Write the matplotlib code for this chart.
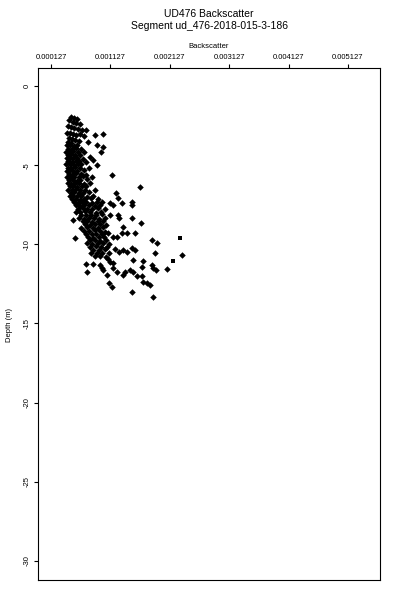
import matplotlib
matplotlib.use("Agg")
import matplotlib.pyplot as plt
import numpy as np

plt.rcParams['font.family'] = ['Liberation Sans', 'DejaVu Sans']

# backscatter / depth samples, grouped by depth zone
top_pts = [
    (0.00046, -1.95), (0.00051, -2.00), (0.00056, -2.08), (0.00043, -2.18), (0.00049, -2.25),
    (0.00054, -2.33), (0.00061, -2.42), (0.00041, -2.52), (0.00047, -2.60), (0.00052, -2.68),
    (0.00058, -2.74), (0.00065, -2.80), (0.00072, -2.76), (0.00040, -2.94), (0.00045, -3.00),
    (0.00050, -3.06), (0.00055, -3.12), (0.00062, -3.02), (0.00068, -3.18), (0.00043, -3.30),
    (0.00048, -3.36), (0.00053, -3.42), (0.00059, -3.46), (0.00041, -3.56), (0.00047, -3.62),
    (0.00087, -3.10), (0.00100, -3.03), (0.00090, -3.73), (0.00100, -3.85), (0.00097, -4.17),
]

mid_pts = [
    (0.00039, -3.75), (0.00044, -3.72), (0.00051, -3.80), (0.00057, -3.75), (0.00075, -3.54),
    (0.00042, -3.95), (0.00048, -3.98), (0.00054, -3.92), (0.00063, -3.95),
    (0.00038, -4.15), (0.00045, -4.18), (0.00050, -4.12), (0.00058, -4.15), (0.00068, -4.20),
    (0.00041, -4.35), (0.00047, -4.32), (0.00053, -4.38), (0.00061, -4.35), (0.00079, -4.50),
    (0.00039, -4.55), (0.00044, -4.58), (0.00050, -4.52), (0.00056, -4.55), (0.00066, -4.60),
    (0.00042, -4.75), (0.00048, -4.78), (0.00054, -4.72), (0.00060, -4.75), (0.00071, -4.80),
    (0.00038, -4.95), (0.00045, -4.92), (0.00051, -4.98), (0.00058, -4.95), (0.00064, -4.90),
    (0.00041, -5.15), (0.00047, -5.18), (0.00053, -5.12), (0.00062, -5.15), (0.00076, -5.20),
    (0.00039, -5.35), (0.00044, -5.32), (0.00050, -5.38), (0.00057, -5.35), (0.00068, -5.30),
    (0.00043, -5.55), (0.00049, -5.58), (0.00055, -5.52), (0.00063, -5.55), (0.00072, -5.60),
    (0.00040, -5.75), (0.00046, -5.72), (0.00052, -5.78), (0.00059, -5.75), (0.00066, -5.70),
    (0.00081, -5.75), (0.00043, -5.95), (0.00049, -5.92), (0.00056, -5.98), (0.00062, -5.95),
    (0.00074, -5.90), (0.00041, -6.15), (0.00047, -6.18), (0.00053, -6.12), (0.00060, -6.15),
    (0.00069, -6.20), (0.00078, -6.15), (0.00044, -6.35), (0.00050, -6.32), (0.00057, -6.38),
    (0.00065, -6.35), (0.00072, -6.30), (0.00042, -6.55), (0.00048, -6.58), (0.00055, -6.52),
    (0.00061, -6.55), (0.00070, -6.60), (0.00086, -6.55), (0.00046, -6.75), (0.00052, -6.72),
    (0.00059, -6.78), (0.00066, -6.75), (0.00076, -6.70), (0.00044, -6.95), (0.00050, -6.98),
    (0.00057, -6.92), (0.00064, -6.95), (0.00073, -7.00), (0.00083, -6.95), (0.00048, -7.15),
    (0.00055, -7.12), (0.00062, -7.18), (0.00069, -7.15), (0.00080, -7.10), (0.00092, -7.15),
    (0.00083, -4.67), (0.00090, -5.00),
]

low_pts = [
    (0.00052, -7.35), (0.00058, -7.38), (0.00065, -7.32), (0.00072, -7.35), (0.00081, -7.40),
    (0.00090, -7.35), (0.00099, -7.30), (0.00055, -7.55), (0.00062, -7.58), (0.00069, -7.52),
    (0.00077, -7.55), (0.00086, -7.60), (0.00095, -7.55), (0.00058, -7.75), (0.00066, -7.72),
    (0.00073, -7.78), (0.00082, -7.75), (0.00091, -7.70), (0.00104, -7.75), (0.00054, -7.95),
    (0.00061, -7.98), (0.00070, -7.92), (0.00079, -7.95), (0.00088, -8.00), (0.00097, -7.95),
    (0.00064, -8.15), (0.00072, -8.12), (0.00080, -8.18), (0.00089, -8.15), (0.00098, -8.10),
    (0.00060, -8.35), (0.00068, -8.38), (0.00076, -8.32), (0.00085, -8.35), (0.00094, -8.40),
    (0.00103, -8.35), (0.00050, -8.46), (0.00066, -8.55), (0.00074, -8.52), (0.00082, -8.58),
    (0.00091, -8.55), (0.00100, -8.50), (0.00070, -8.75), (0.00078, -8.78), (0.00087, -8.72),
    (0.00096, -8.75), (0.00106, -8.80), (0.00064, -8.95), (0.00074, -8.92), (0.00083, -8.98),
    (0.00092, -8.95), (0.00101, -8.90), (0.00068, -9.15), (0.00077, -9.18), (0.00086, -9.12),
    (0.00095, -9.15), (0.00104, -9.20), (0.00072, -9.35), (0.00081, -9.32), (0.00089, -9.38),
    (0.00098, -9.35), (0.00108, -9.30), (0.00053, -9.60), (0.00075, -9.55), (0.00084, -9.58),
    (0.00093, -9.52), (0.00102, -9.55), (0.00078, -9.75), (0.00087, -9.72), (0.00096, -9.78),
    (0.00105, -9.75), (0.00074, -9.95), (0.00082, -9.98), (0.00091, -9.92), (0.00100, -9.95),
    (0.00110, -10.00), (0.00079, -10.15), (0.00088, -10.12), (0.00097, -10.18), (0.00107, -10.15),
    (0.00084, -10.35), (0.00093, -10.38), (0.00103, -10.32), (0.00080, -10.55), (0.00090, -10.52),
    (0.00099, -10.58), (0.00110, -10.55), (0.00086, -10.75), (0.00096, -10.72), (0.00106, -10.78),
]

deep_pts = [
    (0.00072, -11.24), (0.00083, -11.24), (0.00073, -11.75), (0.00095, -11.31), (0.00099, -11.50),
    (0.00101, -11.62), (0.00107, -11.94), (0.00110, -12.44), (0.00109, -10.93), (0.00112, -11.12),
    (0.00117, -11.18), (0.00117, -11.50), (0.00124, -11.75), (0.00115, -12.70), (0.00149, -13.01),
    (0.00184, -13.33), (0.00134, -11.94), (0.00151, -11.75), (0.00158, -12.00), (0.00166, -12.00),
    (0.00168, -12.38), (0.00174, -12.44), (0.00179, -12.57), (0.00137, -11.75), (0.00146, -11.62),
]

right_pts = [
    (0.00115, -5.62), (0.00162, -6.38), (0.00122, -6.76), (0.00126, -7.07), (0.00132, -7.39),
    (0.00149, -7.33), (0.00149, -7.52), (0.00112, -7.39), (0.00117, -7.52), (0.00149, -8.34),
    (0.00164, -8.65), (0.00134, -8.91), (0.00141, -9.29), (0.00154, -9.29), (0.00112, -8.15),
    (0.00126, -8.15), (0.00128, -8.34), (0.00132, -9.29), (0.00117, -9.54), (0.00124, -9.54),
    (0.00183, -9.73), (0.00191, -9.92), (0.00188, -10.55), (0.00233, -10.68), (0.00208, -11.56),
    (0.00149, -10.23), (0.00154, -10.36), (0.00134, -10.36), (0.00141, -10.49), (0.00151, -10.99),
    (0.00168, -11.05), (0.00184, -11.50), (0.00183, -11.31), (0.00189, -11.62), (0.00166, -11.43),
    (0.00128, -10.49), (0.00120, -10.30),
]

square_pts = [(0.00230, -9.60), (0.00218, -11.05)]

x_ticks = [0.000127, 0.001127, 0.002127, 0.003127, 0.004127, 0.005127]
y_ticks = [0, -5, -10, -15, -20, -25, -30]

diamonds = np.array(top_pts + mid_pts + low_pts + deep_pts + right_pts)
squares = np.array(square_pts)

fig = plt.figure(figsize=(4, 6), dpi=100)
ax = fig.add_axes([0.095, 0.0333, 0.855, 0.8534])

ax.scatter(diamonds[:, 0], diamonds[:, 1], marker='D', s=11, c='black', linewidths=0)
ax.scatter(squares[:, 0], squares[:, 1], marker='s', s=12, c='black', linewidths=0)

ax.set_xlim(-0.0000919, 0.005666)
ax.set_ylim(-31.21, 1.137)

ax.xaxis.tick_top()
ax.xaxis.set_label_position('top')
ax.set_xticks(x_ticks)
ax.set_xticklabels(['%.6f' % v for v in x_ticks])
ax.set_yticks(y_ticks)
ax.set_yticklabels([str(v) for v in y_ticks], rotation=90, va='center')
ax.tick_params(axis='both', labelsize=5.5, length=3, width=0.8, pad=2)
ax.set_xlabel('Backscatter', fontsize=5.5, labelpad=4)
for s in ax.spines.values():
    s.set_linewidth(0.8)

fig.text(0.015, 0.458, 'Depth (m)', rotation=90, fontsize=5.5, ha='left', va='center')
fig.text(0.523, 0.977, 'UD476 Backscatter', fontsize=7.5, ha='center', va='center')
fig.text(0.523, 0.956, 'Segment ud_476-2018-015-3-186', fontsize=7.5, ha='center', va='center')

fig.savefig('out.png', dpi=100)
